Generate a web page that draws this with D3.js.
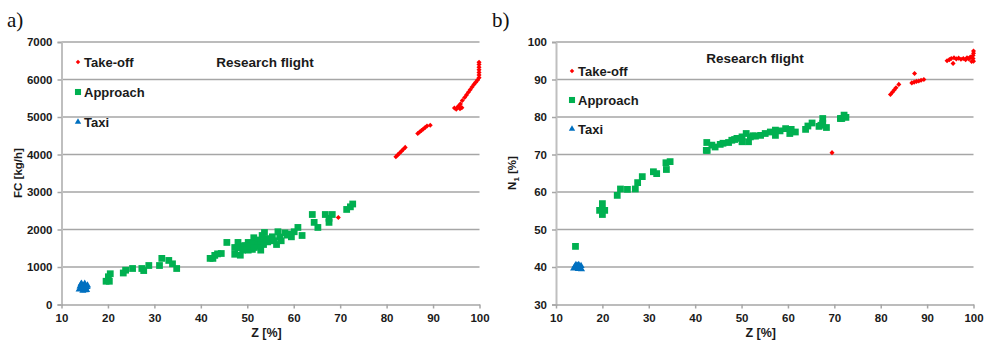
<!DOCTYPE html>
<html>
<head>
<meta charset="utf-8">
<script src="https://cdn.jsdelivr.net/npm/d3@7"></script>
<style>
  body { margin: 0; background: #fff; }
  svg { display: block; }
</style>
</head>
<body>
<div id="chart"></div>
<script>
// x ticks shared by both panels
const zTicks = [10, 20, 30, 40, 50, 60, 70, 80, 90, 100];
const fcTicks = [0, 1000, 2000, 3000, 4000, 5000, 6000, 7000];
const n1Ticks = [30, 40, 50, 60, 70, 80, 90, 100];
const seriesNames = ["Take-off", "Approach", "Taxi"];

// panel a) : [Z %, FC kg/h]
const takeoffFC = [
  [99.9, 6050], [99.9, 6120], [99.9, 6190], [99.9, 6260], [99.9, 6330], [99.9, 6400], [99.9, 6460],
  [96.3, 5440], [96.8, 5520], [97.2, 5590], [97.6, 5660], [98.0, 5730], [98.4, 5800], [98.8, 5870],
  [99.2, 5930], [99.6, 5990], [94.6, 5240], [95.0, 5210], [95.4, 5280], [95.8, 5220], [96.2, 5250],
  [95.6, 5300], [95.9, 5350], [86.7, 4560], [87.1, 4600], [87.5, 4640], [87.9, 4680], [88.3, 4720],
  [88.7, 4760], [89.4, 4780], [82.0, 3940], [82.4, 3990], [82.8, 4040], [83.2, 4090], [83.6, 4140],
  [84.0, 4190], [69.6, 2320]
];
const approachFC = [
  [19.6, 620], [20.3, 620], [20.1, 740], [20.5, 820], [23.3, 840], [23.8, 915], [25.3, 960], [27.3, 960],
  [27.7, 905], [28.8, 1040], [31.1, 1040], [31.6, 1230], [33.1, 1175], [33.9, 1085], [34.8, 960],
  [42.0, 1230], [42.6, 1230], [43.0, 1310], [43.6, 1350], [44.4, 1360], [45.6, 1655], [47.3, 1520],
  [47.3, 1340], [48.0, 1520], [48.0, 1655], [48.5, 1315], [48.7, 1520], [49.3, 1560], [49.5, 1570],
  [50.2, 1655], [50.3, 1540], [50.2, 1450], [51.1, 1470], [51.4, 1780], [52.2, 1720], [52.9, 1450],
  [51.8, 1600], [52.5, 1550], [53.0, 1680], [53.7, 1920], [54.4, 1670], [55.0, 1750], [55.4, 1805],
  [56.3, 1600], [56.6, 1940], [57.3, 1700], [57.0, 1800], [58.1, 1910], [58.6, 1850], [59.5, 1805],
  [60.1, 1940], [59.0, 1880], [60.9, 2055], [61.8, 1840], [64.0, 2400], [64.4, 2190], [65.2, 2055],
  [66.8, 2400], [67.6, 2190], [67.6, 2300], [68.3, 2400], [71.4, 2535], [72.2, 2605], [72.7, 2680],
  [50.8, 1620], [51.5, 1520], [53.5, 1600], [54.0, 1750], [55.8, 1700], [53.2, 1840], [50.0, 1560],
  [49.0, 1450]
];
const taxiFC = [
  [13.8, 400], [14.0, 480], [14.2, 540], [14.4, 420], [14.6, 370], [14.8, 500], [15.0, 560], [15.2, 450],
  [15.4, 390], [15.6, 510], [14.5, 460], [14.9, 420], [15.1, 380], [14.3, 560], [15.5, 470]
];

// panel b) : [Z %, N1 %]
const takeoffN1 = [
  [94.3, 95.0], [94.8, 95.3], [95.2, 95.6], [95.6, 94.3], [95.8, 95.8], [96.3, 95.5], [96.8, 95.7],
  [97.3, 95.4], [97.8, 95.6], [98.3, 95.3], [98.6, 95.8], [99.0, 95.5], [99.3, 96.0], [99.6, 94.8],
  [99.9, 96.4], [100, 97.0], [100, 97.6], [100, 94.9], [99.9, 95.6], [86.7, 89.1], [87.2, 89.3],
  [87.7, 89.5], [88.2, 89.6], [88.7, 89.8], [89.3, 90.0], [87.3, 91.6], [82.1, 86.0], [82.5, 86.6],
  [82.9, 87.2], [83.3, 87.8], [83.9, 88.7], [69.5, 70.5]
];
const approachN1 = [
  [14.2, 45.5], [19.4, 55.1], [20.5, 55.1], [20.0, 56.9], [20.0, 54.0], [23.2, 59.1], [23.9, 60.8],
  [25.4, 60.7], [27.1, 60.8], [27.6, 62.5], [28.6, 64.1], [31.0, 65.4], [31.7, 64.9], [33.7, 67.8],
  [34.6, 68.1], [33.8, 66.0], [42.4, 71.1], [42.6, 71.1], [42.5, 73.2], [43.6, 72.5], [44.3, 72.0],
  [45.4, 72.7], [47.2, 73.2], [47.9, 73.8], [49.0, 74.3], [50.1, 74.7], [50.1, 73.4], [51.0, 75.6],
  [51.5, 73.4], [51.9, 74.7], [53.0, 74.9], [54.1, 75.1], [55.1, 75.6], [56.2, 76.0], [57.3, 76.5],
  [57.3, 75.1], [58.3, 76.3], [59.5, 76.9], [60.4, 75.6], [60.7, 76.7], [61.6, 76.0], [63.8, 76.7],
  [64.3, 77.6], [65.2, 78.4], [66.7, 77.5], [67.5, 79.6], [67.5, 78.3], [68.3, 77.2], [71.3, 79.6],
  [71.6, 79.6], [72.5, 79.9], [72.1, 80.5], [67.1, 77.8], [52.5, 75.0], [48.5, 74.0], [46.0, 73.0]
];
const taxiN1 = [
  [13.8, 39.6], [14.1, 40.2], [14.4, 39.8], [14.6, 40.4], [14.8, 39.5], [15.0, 40.1], [15.2, 39.7],
  [15.4, 40.3], [14.3, 40.6], [15.5, 39.4], [14.9, 40.6]
];

const FONT = "Liberation Sans, Arial, sans-serif";

const svg = d3.select("#chart").append("svg")
  .attr("width", 988)
  .attr("height", 340);

// marker look per series (take-off, approach, taxi)
const markers = [
  {type: d3.symbolDiamond2, size: 16, color: "#ff0000"},
  {type: d3.symbolSquare, size: 46, color: "#00b050"},
  {type: d3.symbolTriangle, size: 22, color: "#0070c0"}
];

function styleText(sel, size) {
  sel.attr("font-size", size).attr("font-weight", "bold")
    .attr("font-family", FONT).attr("fill", "#1a1a1a");
}

function drawPanel(cfg) {
  const x = d3.scaleLinear().domain([10, 100]).range([cfg.left, cfg.right]);
  const y = d3.scaleLinear().domain(cfg.yDomain).range([304.5, 42]);
  const g = svg.append("g");

  // horizontal gridlines
  g.append("g")
    .selectAll("line")
    .data(cfg.yTicks.slice(1))
    .join("line")
    .attr("x1", cfg.left).attr("x2", cfg.right)
    .attr("y1", d => y(d)).attr("y2", d => y(d))
    .attr("stroke", "#a6a6a6")
    .attr("stroke-width", 1.5);

  // y axis
  const yAxis = g.append("g")
    .attr("transform", `translate(${cfg.left},0)`)
    .call(d3.axisLeft(y).tickValues(cfg.yTicks).tickFormat(d3.format("d")).tickSize(4).tickPadding(5));
  yAxis.select(".domain").attr("stroke", "#bfbfbf").attr("stroke-width", 2);
  yAxis.selectAll(".tick line").attr("stroke", "#a6a6a6").attr("stroke-width", 1.5);
  styleText(yAxis.selectAll("text"), 11.5);

  // x axis
  const xAxis = g.append("g")
    .attr("transform", `translate(0,304.5)`)
    .call(d3.axisBottom(x).tickValues(zTicks).tickFormat(d3.format("d")).tickSize(4).tickSizeOuter(0).tickPadding(5));
  xAxis.select(".domain").attr("stroke", "#a6a6a6").attr("stroke-width", 1.5);
  xAxis.selectAll(".tick line").attr("stroke", "#a6a6a6").attr("stroke-width", 1.5);
  styleText(xAxis.selectAll("text"), 11.5);

  // points
  const sets = [cfg.approach, cfg.takeoff, cfg.taxi];
  const idx = [1, 0, 2];
  sets.forEach((data, i) => {
    const m = markers[idx[i]];
    g.append("g")
      .selectAll("path")
      .data(data)
      .join("path")
      .attr("d", d3.symbol().type(m.type).size(m.size))
      .attr("transform", d => `translate(${x(d[0])},${y(d[1])})`)
      .attr("fill", m.color);
  });

  // legend
  seriesNames.forEach((name, i) => {
    const ly = cfg.legendY + i * cfg.legendGap;
    g.append("path")
      .attr("d", d3.symbol().type(markers[i].type).size(markers[i].size * 0.8))
      .attr("transform", `translate(${cfg.legendX},${ly})`)
      .attr("fill", markers[i].color);
    styleText(g.append("text")
      .attr("x", cfg.legendX + 6).attr("y", ly + 4.5)
      .text(name), 13);
  });

  // title
  styleText(g.append("text")
    .attr("x", cfg.titleX).attr("y", cfg.titleY)
    .attr("text-anchor", "middle")
    .text("Research flight"), 13.5);

  // axis titles
  styleText(g.append("text")
    .attr("x", (cfg.left + cfg.right) / 2 - 4).attr("y", 337)
    .attr("text-anchor", "middle")
    .text("Z [%]"), 12.5);

  const yt = g.append("text")
    .attr("transform", `translate(${cfg.yTitleX},173) rotate(-90)`)
    .attr("text-anchor", "middle");
  styleText(yt, 11.5);
  cfg.yTitle(yt);

  // panel letter
  svg.append("text")
    .attr("x", cfg.letterX).attr("y", 27)
    .attr("font-family", "Liberation Serif, Times New Roman, serif")
    .attr("font-size", 21)
    .attr("fill", "#111")
    .text(cfg.letter);
}

drawPanel({
  left: 61.5, right: 479.5,
  yDomain: [0, 7000], yTicks: fcTicks,
  takeoff: takeoffFC, approach: approachFC, taxi: taxiFC,
  legendX: 78, legendY: 62, legendGap: 30,
  titleX: 265, titleY: 67,
  yTitleX: 22,
  yTitle: t => t.text("FC [kg/h]"),
  letter: "a)", letterX: 7
});

drawPanel({
  left: 556, right: 973.5,
  yDomain: [30, 100], yTicks: n1Ticks,
  takeoff: takeoffN1, approach: approachN1, taxi: taxiN1,
  legendX: 572, legendY: 71, legendGap: 29,
  titleX: 755, titleY: 63,
  yTitleX: 516,
  yTitle: t => {
    t.append("tspan").text("N");
    t.append("tspan").attr("font-size", 8).attr("dy", 3).text("1");
    t.append("tspan").attr("dy", -3).text(" [%]");
  },
  letter: "b)", letterX: 492
});
</script>
</body>
</html>
